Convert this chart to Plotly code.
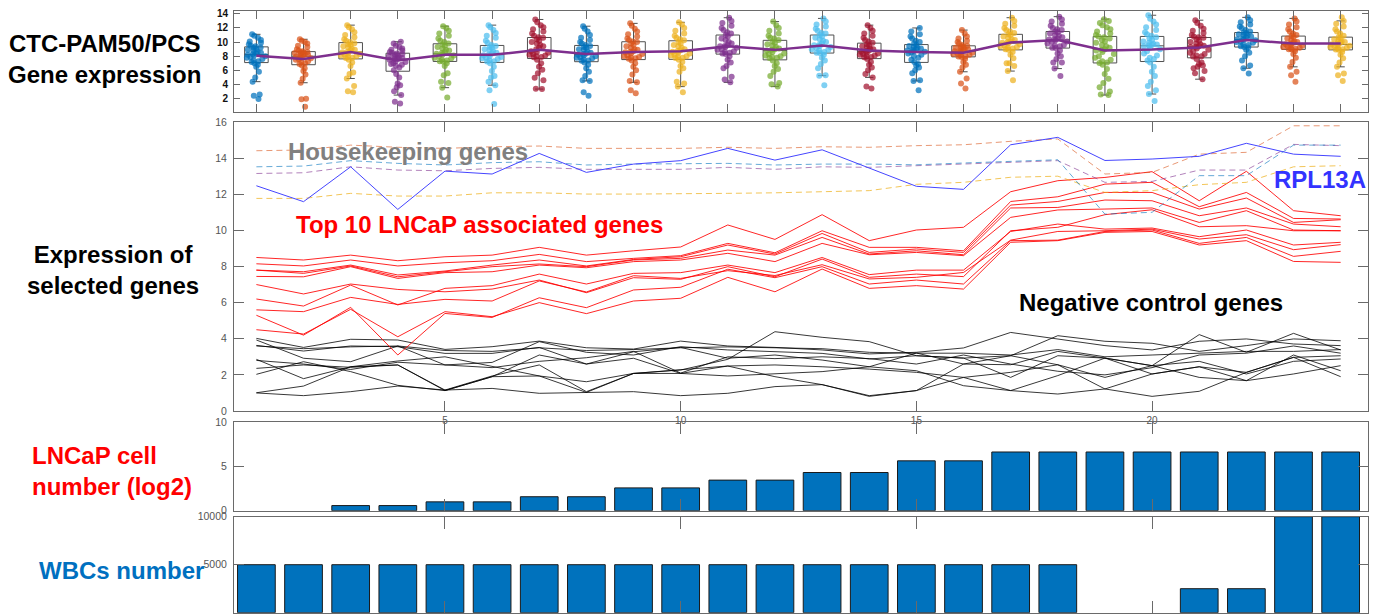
import plotly.graph_objects as go

# ---------------- DATA ----------------
samples = list(range(1, 25))

# CTC-PAM50/PCS gene expression per sample (values read from the jittered points)
expr_groups = [
    [11.1, 10.9, 10.6, 10.3, 10.1, 9.9, 9.7, 9.5, 9.4, 9.25, 9.2, 9.0, 8.9, 8.8, 8.6, 8.5, 8.4, 8.3, 8.2, 8.1, 8.0, 7.9, 7.8, 7.6, 7.4, 7.3, 7.2, 7.0, 6.8, 6.5, 5.8, 5.0, 4.4, 2.6, 2.4, 1.95],
    [10.4, 10.2, 10.0, 9.8, 9.5, 9.3, 9.0, 8.8, 8.7, 8.6, 8.55, 8.5, 8.45, 8.4, 8.3, 8.2, 8.1, 8.05, 7.95, 7.8, 7.7, 7.6, 7.5, 7.3, 7.2, 7.0, 6.9, 6.7, 6.3, 5.9, 5.4, 4.8, 4.25, 2.0, 1.9, 0.85],
    [12.4, 12.1, 11.8, 11.4, 11.0, 10.7, 10.4, 10.2, 10.0, 9.85, 9.7, 9.6, 9.4, 9.3, 9.1, 8.9, 8.8, 8.65, 8.55, 8.4, 8.3, 8.2, 8.1, 8.0, 7.9, 7.8, 7.75, 7.5, 7.1, 6.6, 5.7, 5.5, 4.85, 3.8, 3.05, 2.9],
    [10.05, 9.8, 9.5, 9.3, 9.1, 8.9, 8.8, 8.6, 8.5, 8.4, 8.3, 8.2, 8.1, 8.0, 7.9, 7.85, 7.75, 7.7, 7.6, 7.5, 7.3, 7.2, 7.0, 6.9, 6.8, 6.65, 6.4, 6.0, 5.5, 5.0, 4.15, 3.9, 3.6, 3.05, 2.5, 1.55, 1.3],
    [12.25, 12.0, 11.6, 11.2, 10.9, 10.5, 10.2, 10.0, 9.8, 9.65, 9.5, 9.3, 9.1, 8.9, 8.8, 8.6, 8.45, 8.35, 8.25, 8.1, 8.0, 7.8, 7.7, 7.5, 7.4, 7.3, 7.25, 7.0, 6.6, 5.6, 5.3, 4.4, 4.2, 3.55, 2.15],
    [12.4, 12.1, 11.7, 11.3, 10.9, 10.6, 10.2, 9.9, 9.6, 9.45, 9.3, 9.2, 9.0, 8.9, 8.7, 8.5, 8.4, 8.25, 8.15, 8.0, 7.9, 7.8, 7.7, 7.6, 7.4, 7.3, 7.25, 7.0, 6.5, 5.9, 5.2, 5.0, 4.4, 3.9, 3.2, 1.25],
    [13.2, 12.8, 12.4, 12.1, 11.8, 11.5, 11.2, 10.9, 10.7, 10.6, 10.4, 10.2, 10.0, 9.8, 9.6, 9.4, 9.2, 9.0, 8.7, 8.6, 8.5, 8.3, 8.2, 8.1, 8.0, 7.9, 7.85, 7.5, 7.0, 6.5, 6.1, 5.6, 4.95, 4.6, 3.4, 3.35],
    [12.25, 11.9, 11.5, 11.0, 10.6, 10.3, 10.0, 9.8, 9.6, 9.45, 9.3, 9.2, 9.0, 8.9, 8.7, 8.5, 8.4, 8.3, 8.2, 8.1, 8.0, 7.9, 7.8, 7.7, 7.5, 7.4, 7.35, 7.1, 6.8, 6.3, 5.8, 5.2, 4.6, 4.5, 2.9, 2.4],
    [12.65, 12.3, 11.9, 11.5, 11.1, 10.8, 10.5, 10.3, 10.1, 10.0, 9.8, 9.6, 9.4, 9.2, 9.0, 8.9, 8.7, 8.65, 8.55, 8.4, 8.3, 8.1, 8.0, 7.9, 7.8, 7.7, 7.65, 7.4, 7.0, 6.5, 6.0, 5.4, 4.5, 4.3, 3.2, 2.75],
    [12.8, 12.5, 12.0, 11.6, 11.2, 10.9, 10.6, 10.4, 10.25, 10.0, 9.8, 9.6, 9.4, 9.2, 9.0, 8.85, 8.75, 8.65, 8.5, 8.4, 8.2, 8.1, 8.0, 7.9, 7.8, 7.75, 7.5, 7.2, 6.6, 6.3, 5.8, 4.4, 4.15, 3.7, 2.9],
    [13.45, 13.0, 12.7, 12.3, 12.0, 11.7, 11.4, 11.2, 11.0, 10.8, 10.5, 10.3, 10.0, 9.8, 9.6, 9.45, 9.4, 9.3, 9.2, 9.0, 8.9, 8.7, 8.6, 8.5, 8.4, 8.3, 8.0, 7.5, 7.1, 6.6, 6.3, 5.1, 4.7, 4.3],
    [12.9, 12.4, 12.0, 11.6, 11.2, 10.9, 10.6, 10.5, 10.3, 10.1, 9.9, 9.7, 9.5, 9.3, 9.1, 9.0, 8.9, 8.8, 8.6, 8.4, 8.3, 8.1, 8.0, 7.9, 7.8, 7.75, 7.4, 7.0, 6.6, 6.2, 5.8, 5.2, 4.2, 4.05, 3.7],
    [13.35, 12.9, 12.5, 12.2, 11.9, 11.6, 11.3, 11.2, 11.0, 10.8, 10.6, 10.4, 10.2, 10.0, 9.8, 9.6, 9.55, 9.45, 9.3, 9.2, 9.0, 8.9, 8.8, 8.6, 8.5, 8.45, 8.2, 7.8, 7.4, 6.9, 6.3, 5.3, 5.25, 3.9],
    [12.4, 12.0, 11.6, 11.2, 10.9, 10.6, 10.3, 10.1, 9.9, 9.7, 9.5, 9.4, 9.3, 9.1, 9.0, 8.8, 8.75, 8.65, 8.5, 8.4, 8.3, 8.2, 8.1, 8.0, 7.9, 7.85, 7.6, 7.2, 6.8, 6.4, 6.0, 5.5, 5.0, 3.7, 3.45],
    [12.0, 11.5, 11.1, 10.8, 10.5, 10.2, 10.0, 9.8, 9.6, 9.45, 9.3, 9.2, 9.1, 9.0, 8.9, 8.8, 8.7, 8.65, 8.55, 8.4, 8.2, 8.0, 7.8, 7.5, 7.2, 6.9, 6.7, 6.4, 6.0, 5.6, 4.6, 4.5, 3.2],
    [11.7, 11.2, 10.8, 10.5, 10.2, 10.0, 9.8, 9.6, 9.5, 9.4, 9.3, 9.2, 9.1, 9.0, 8.95, 8.85, 8.75, 8.7, 8.6, 8.5, 8.4, 8.3, 8.2, 8.1, 8.0, 7.95, 7.9, 7.6, 7.2, 6.8, 6.4, 5.8, 4.85, 4.15, 3.45],
    [13.45, 13.0, 12.6, 12.3, 12.0, 11.7, 11.5, 11.3, 11.1, 11.0, 10.8, 10.6, 10.4, 10.3, 10.1, 10.0, 9.9, 9.8, 9.7, 9.5, 9.4, 9.3, 9.2, 9.1, 9.0, 8.9, 8.6, 8.2, 7.7, 7.0, 7.0, 6.6, 5.9, 4.6],
    [13.6, 13.2, 12.9, 12.6, 12.3, 12.0, 11.8, 11.7, 11.5, 11.4, 11.2, 11.0, 10.9, 10.7, 10.5, 10.4, 10.35, 10.25, 10.1, 10.0, 9.8, 9.6, 9.5, 9.4, 9.2, 9.15, 8.8, 8.4, 8.0, 7.6, 7.1, 7.1, 6.25, 5.2],
    [13.25, 13.0, 12.7, 12.4, 12.1, 11.8, 11.5, 11.2, 11.0, 10.8, 10.7, 10.5, 10.3, 10.1, 9.9, 9.6, 9.4, 9.2, 9.0, 8.9, 8.8, 8.6, 8.3, 8.0, 7.8, 7.5, 7.3, 7.1, 7.05, 6.8, 6.2, 5.5, 4.8, 4.2, 3.6, 3.0, 2.6, 2.5],
    [13.8, 13.3, 12.9, 12.5, 12.1, 11.7, 11.4, 11.1, 10.9, 10.7, 10.5, 10.3, 10.1, 9.9, 9.75, 9.65, 9.6, 9.55, 9.4, 9.2, 9.0, 8.7, 8.4, 8.1, 7.8, 7.6, 7.4, 7.1, 6.5, 5.8, 5.2, 4.4, 3.8, 3.2, 2.65, 1.65],
    [13.1, 12.7, 12.3, 11.9, 11.6, 11.3, 11.0, 10.8, 10.7, 10.6, 10.4, 10.2, 10.0, 9.8, 9.7, 9.5, 9.4, 9.35, 9.3, 9.1, 8.9, 8.7, 8.5, 8.3, 8.1, 8.0, 7.95, 7.6, 7.1, 6.9, 6.7, 6.5, 6.3, 5.9, 5.6, 4.75],
    [13.5, 13.1, 12.8, 12.5, 12.2, 12.0, 11.7, 11.5, 11.35, 11.25, 11.1, 11.0, 10.9, 10.8, 10.7, 10.5, 10.4, 10.35, 10.25, 10.1, 10.0, 9.9, 9.7, 9.6, 9.4, 9.3, 9.25, 8.9, 8.5, 8.0, 7.4, 6.7, 6.3, 5.55],
    [13.35, 12.9, 12.5, 12.1, 11.8, 11.5, 11.2, 11.0, 10.85, 10.7, 10.5, 10.3, 10.1, 10.0, 9.9, 9.8, 9.7, 9.6, 9.5, 9.4, 9.3, 9.2, 9.1, 9.05, 9.0, 8.97, 8.7, 8.3, 7.8, 7.2, 6.5, 5.8, 5.3, 4.4],
    [13.5, 13.0, 12.6, 12.2, 11.8, 11.5, 11.2, 10.9, 10.7, 10.6, 10.4, 10.2, 10.1, 10.0, 9.9, 9.8, 9.7, 9.6, 9.5, 9.4, 9.3, 9.2, 9.1, 9.0, 8.95, 8.9, 8.6, 8.2, 7.7, 7.1, 6.5, 5.55, 5.3, 4.5],
]
expr_mean = [8.07, 7.6, 8.6, 7.4, 8.2, 8.2, 8.9, 8.3, 8.6, 8.7, 9.4, 8.9,
             9.5, 8.8, 8.6, 8.5, 9.95, 10.3, 8.8, 8.95, 9.25, 10.3, 9.8, 9.8]

# Housekeeping genes (dashed)
hk_orange = [14.41, 14.45, 14.72, 14.6, 14.54, 14.63, 14.67, 14.54, 14.54, 14.54, 14.6, 14.54,
             14.63, 14.6, 14.69, 14.74, 14.93, 15.06, 13.12, 13.21, 14.22, 14.32, 15.79, 15.79]
hk_blue = [13.52, 13.56, 13.86, 13.71, 13.62, 13.75, 13.8, 13.62, 13.67, 13.71, 13.71, 13.62,
           13.67, 13.67, 13.63, 13.73, 13.82, 13.91, 10.9, 11.0, 13.03, 13.03, 14.72, 14.72]
hk_purple = [13.15, 13.19, 13.52, 13.34, 13.3, 13.43, 13.49, 13.38, 13.38, 13.38, 13.49, 13.38,
             13.52, 13.49, 13.58, 13.67, 13.76, 13.86, 12.66, 12.71, 13.34, 13.34, 14.76, 14.69]
hk_yellow = [11.77, 11.77, 12.05, 11.9, 11.9, 12.08, 12.08, 12.01, 12.01, 12.01, 12.05, 12.08,
             12.14, 12.2, 12.55, 12.66, 12.94, 13.0, 12.1, 12.2, 12.53, 12.66, 13.52, 13.58]
rpl13a = [12.47, 11.59, 13.52, 11.16, 13.28, 13.12, 14.26, 13.21, 13.67, 13.86, 14.54, 13.89,
          14.46, 13.45, 12.44, 12.27, 14.74, 15.15, 13.87, 13.95, 14.1, 14.82, 14.22, 14.1]

# Top 10 LNCaP associated genes
lncap_genes = [
    [8.5, 8.36, 8.63, 8.32, 8.54, 8.63, 9.06, 8.63, 8.87, 9.08, 10.3, 9.5, 10.87, 9.43, 10.02, 10.17, 12.14, 12.75, 12.93, 13.25, 11.64, 13.27, 11.09, 10.81],
    [8.15, 8.03, 8.36, 8.03, 8.21, 8.32, 8.67, 8.27, 8.45, 8.6, 9.28, 8.76, 9.98, 9.06, 9.06, 8.87, 11.6, 11.86, 12.56, 12.66, 11.31, 12.1, 10.66, 10.63],
    [7.8, 7.71, 8.08, 7.53, 7.75, 8.08, 8.36, 8.03, 8.39, 8.54, 9.19, 8.69, 9.83, 8.78, 8.97, 8.78, 11.4, 11.6, 12.1, 12.1, 11.18, 11.79, 10.44, 10.59],
    [7.8, 7.62, 8.03, 7.43, 7.71, 7.99, 8.14, 7.99, 8.36, 8.45, 8.91, 8.63, 9.61, 8.69, 8.87, 8.65, 11.24, 11.27, 11.68, 11.64, 10.81, 11.24, 10.35, 10.2],
    [7.45, 7.43, 7.99, 7.34, 7.66, 7.71, 8.08, 7.93, 8.27, 8.36, 8.73, 8.27, 9.28, 8.65, 8.78, 8.6, 10.72, 11.13, 11.18, 11.24, 10.44, 11.09, 10.02, 9.98],
    [7.0, 6.48, 7.03, 6.73, 6.6, 6.75, 7.25, 6.55, 7.38, 7.29, 7.99, 7.43, 8.41, 7.4, 7.58, 7.44, 9.98, 10.17, 10.87, 11.14, 10.2, 10.26, 9.98, 9.98],
    [6.2, 5.81, 6.97, 5.87, 6.79, 6.94, 7.58, 7.03, 7.62, 7.66, 8.08, 7.66, 8.5, 7.55, 7.8, 7.8, 9.94, 10.35, 10.07, 10.13, 9.65, 10.02, 9.19, 9.34],
    [5.6, 5.5, 6.29, 5.9, 6.18, 6.09, 7.2, 6.59, 7.49, 7.34, 7.77, 7.5, 8.1, 7.31, 7.4, 7.67, 9.46, 9.94, 9.98, 10.07, 9.52, 9.76, 8.93, 9.21],
    [5.3, 4.2, 5.74, 3.1, 5.4, 5.18, 6.27, 5.72, 6.7, 6.85, 7.85, 7.38, 7.99, 7.03, 7.25, 7.03, 9.43, 9.46, 9.94, 10.02, 9.28, 9.61, 8.56, 8.84],
    [4.5, 4.26, 5.63, 4.11, 5.5, 5.22, 6.0, 5.39, 6.09, 6.24, 7.4, 6.6, 7.86, 6.79, 6.94, 6.75, 9.34, 9.43, 9.89, 9.94, 9.19, 9.43, 8.28, 8.23],
]

# Negative control genes
neg_genes = [
    [4.02, 3.52, 3.97, 3.93, 3.41, 3.56, 3.87, 3.50, 3.43, 3.87, 3.60, 3.52, 3.38, 3.16, 3.25, 3.49, 4.35, 3.99, 3.62, 3.38, 3.86, 3.99, 3.71, 3.62],
    [3.93, 2.92, 2.73, 3.60, 2.55, 2.69, 3.84, 3.25, 3.10, 3.56, 3.38, 3.28, 3.19, 2.88, 3.06, 2.93, 3.06, 4.17, 3.86, 3.75, 3.30, 3.62, 3.99, 3.89],
    [3.63, 3.32, 3.60, 3.56, 3.19, 3.19, 3.52, 2.60, 3.28, 3.52, 2.92, 3.10, 2.82, 2.45, 3.21, 2.60, 2.56, 3.30, 2.93, 2.51, 4.23, 3.25, 4.30, 3.38],
    [2.86, 1.79, 2.45, 2.77, 3.00, 2.45, 1.94, 1.62, 2.08, 2.27, 2.86, 4.39, 4.08, 3.84, 3.06, 2.93, 1.86, 3.06, 2.93, 2.05, 2.45, 2.14, 2.97, 3.06],
    [2.36, 2.55, 2.42, 2.55, 1.16, 1.94, 2.55, 1.07, 2.08, 2.08, 2.49, 2.55, 2.45, 2.32, 2.14, 1.86, 2.14, 2.56, 1.86, 2.51, 2.75, 2.05, 2.75, 2.88],
    [2.03, 2.73, 2.18, 1.42, 1.13, 1.90, 3.10, 2.60, 2.92, 2.08, 1.94, 2.08, 2.18, 2.45, 2.23, 1.40, 1.13, 1.96, 2.93, 2.51, 1.86, 1.68, 2.05, 2.51],
    [1.01, 1.38, 2.45, 2.55, 1.13, 1.90, 1.94, 1.03, 2.08, 2.27, 2.49, 1.90, 1.46, 0.85, 1.13, 2.60, 3.06, 2.56, 1.22, 2.05, 2.45, 1.68, 3.10, 2.23],
    [1.00, 0.85, 1.07, 1.38, 1.16, 1.25, 0.98, 1.03, 1.07, 0.85, 0.98, 1.35, 1.46, 0.81, 1.13, 1.86, 1.13, 0.94, 1.22, 0.81, 1.09, 2.14, 2.97, 1.90],
    [3.60, 3.45, 3.55, 3.60, 3.35, 3.30, 3.50, 3.35, 3.40, 3.50, 3.55, 3.50, 3.45, 3.25, 3.20, 3.20, 3.10, 3.40, 3.00, 3.10, 3.20, 3.30, 3.30, 3.40],
    [2.80, 2.60, 2.30, 2.70, 2.55, 2.40, 2.75, 2.95, 3.30, 2.10, 3.00, 2.90, 3.00, 2.90, 2.60, 3.10, 2.60, 2.20, 2.00, 2.40, 3.10, 3.20, 3.60, 3.20],
]

lncap_log2 = [0, 0, 0.58, 0.58, 1.0, 1.0, 1.58, 1.58, 2.58, 2.58, 3.46, 3.46,
              4.32, 4.32, 5.64, 5.64, 6.64, 6.64, 6.64, 6.64, 6.64, 6.64, 6.64, 6.64]
wbc_number = [5000] * 18 + [0, 0, 2500, 2500, 10000, 10000]

# ---------------- STYLE ----------------
W, H = 1377, 614
FONT = "Liberation Sans, Arial, sans-serif"
AX = "#6a6a6a"
matlab = ["#0072BD", "#D95319", "#EDB120", "#7E2F8E", "#77AC30", "#4DBEEE", "#A2142F"]

fig = go.Figure()

# ---- top panel: box plots with points ----
for i, vals in enumerate(expr_groups):
    c = matlab[i % 7]
    fig.add_trace(go.Box(
        y=vals, x0=samples[i], xaxis="x", yaxis="y",
        boxpoints="all", jitter=0.9, pointpos=0, width=0.5,
        marker=dict(color=c, size=6, opacity=0.72),
        line=dict(color="#505050", width=1),
        fillcolor="rgba(0,0,0,0)", whiskerwidth=0.35,
        hoverinfo="skip", showlegend=False))
fig.add_trace(go.Scatter(x=samples, y=expr_mean, xaxis="x", yaxis="y", mode="lines",
                         line=dict(color="#7E2F8E", width=2.5), hoverinfo="skip"))

# ---- main panel ----
for s in neg_genes:
    fig.add_trace(go.Scatter(x=samples, y=s, xaxis="x2", yaxis="y2", mode="lines",
                             line=dict(color="rgba(0,0,0,0.78)", width=1)))
for s in lncap_genes:
    fig.add_trace(go.Scatter(x=samples, y=s, xaxis="x2", yaxis="y2", mode="lines",
                             line=dict(color="rgba(255,0,0,0.85)", width=1)))
for s, c in [(hk_yellow, "rgba(237,177,32,0.75)"), (hk_purple, "rgba(126,47,142,0.6)"),
             (hk_blue, "rgba(0,114,189,0.6)"), (hk_orange, "rgba(217,83,25,0.6)")]:
    fig.add_trace(go.Scatter(x=samples, y=s, xaxis="x2", yaxis="y2", mode="lines",
                             line=dict(color=c, width=1, dash="6px,4px")))
fig.add_trace(go.Scatter(x=samples, y=rpl13a, xaxis="x2", yaxis="y2", mode="lines",
                         line=dict(color="#4545FF", width=1)))

# ---- bars (no outline on empty bars) ----
def bar_marker(values):
    return dict(color="#0072BD",
                line=dict(color="#1a1a1a", width=[0 if v == 0 else 1 for v in values]))

fig.add_trace(go.Bar(x=samples, y=lncap_log2, xaxis="x3", yaxis="y3", width=0.8,
                     marker=bar_marker(lncap_log2)))
fig.add_trace(go.Bar(x=samples, y=wbc_number, xaxis="x4", yaxis="y4", width=0.8,
                     marker=bar_marker(wbc_number)))

# ---------------- LAYOUT ----------------
xd = [234 / W, 1368 / W]
xr = [0.525, 24.58]

def py(top, bottom):
    return [(H - bottom) / H, (H - top) / H]

def xax(anchor, tickvals, ticklen, labels):
    return dict(domain=xd, range=xr, anchor=anchor, tickvals=tickvals, ticks="inside",
                ticklen=ticklen, tickcolor=AX, showline=True, linecolor=AX, linewidth=1,
                mirror="ticks", showgrid=False, zeroline=False, showticklabels=labels,
                automargin=False,
                tickfont=dict(family=FONT, size=10, color="#555555"))

def yax(anchor, dom, rng, tickvals, ticklen, font, standoff, ticktext=None):
    d = dict(domain=dom, range=rng, anchor=anchor, tickvals=tickvals, ticks="inside",
             ticklen=ticklen, tickcolor=AX, showline=True, linecolor=AX, linewidth=1,
             mirror="ticks", showgrid=False, zeroline=False, tickfont=font,
             ticklabelstandoff=standoff, automargin=False)
    if ticktext is not None:
        d["ticktext"] = ticktext
    return d

gray_font = dict(family=FONT, size=10.5, color="#555555")
top_font = dict(family=FONT, size=10, color="#111111", weight="bold")

wbc_ticks = [0, 5000, 10000]
fig.update_layout(
    width=W, height=H, margin=dict(l=0, r=0, t=0, b=0, pad=0), autosize=False,
    paper_bgcolor="white", plot_bgcolor="white", showlegend=False,
    boxmode="overlay",
    xaxis=xax("y", samples, 8, False),
    xaxis2=xax("y2", [5, 10, 15, 20], 10, True),
    xaxis3=xax("y3", [5, 10, 15, 20], 12, False),
    xaxis4=xax("y4", [5, 10, 15, 20], 12, False),
    yaxis=yax("x", py(11, 111.7), [0.15, 14.4], [2, 4, 6, 8, 10, 12, 14], 6, top_font, 3),
    yaxis2=yax("x2", py(122, 411), [0, 16], list(range(0, 17, 2)), 10, gray_font, 4),
    yaxis3=yax("x3", py(422.3, 510.7), [0, 10], [0, 5, 10], 10, gray_font, 4),
    yaxis4=yax("x4", py(516.7, 612.7), [0, 10000], wbc_ticks, 10, gray_font, 4,
               [str(v) for v in wbc_ticks]),
)

def note(text, x, y, color, xanchor="left", align="left", size=24):
    fig.add_annotation(text=f"<b>{text}</b>", x=x / W, y=(H - y) / H, xref="paper", yref="paper",
                       xanchor=xanchor, yanchor="middle", align=align, showarrow=False,
                       font=dict(family=FONT, size=size, color=color))

note("CTC-PAM50/PCS<br>Gene expression", 104, 59, "#000000", "center", "center")
note("Expression of<br>selected genes", 113, 270, "#000000", "center", "center")
note("LNCaP cell<br>number (log2)", 30, 471, "#FF0000")
note("WBCs number", 37, 570, "#0070C0")
note("Housekeeping genes", 286, 151, "#808080")
note("Top 10 LNCaP associated genes", 294, 224, "#FF0000")
note("Negative control genes", 1017, 302, "#000000")
note("RPL13A", 1368, 179, "#3333FF", "right", "right")

fig.write_html("out.html", config={"displayModeBar": False},
               post_script="document.body.style.margin='0px';document.body.style.overflow='hidden';")
